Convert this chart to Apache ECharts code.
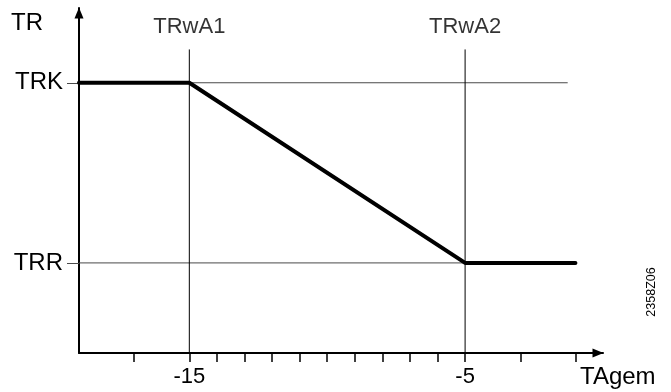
<!DOCTYPE html>
<html>
<head>
<meta charset="utf-8">
<script src="https://cdn.jsdelivr.net/npm/echarts@6/dist/echarts.min.js"></script>
<style>
html,body{margin:0;padding:0;background:#fff;}
#chart{width:671px;height:392px;}
</style>
</head>
<body>
<div id="chart"></div>
<script>
// ---- data ----
var curveX = [-19, -15, -5, -1];          // TAgem
var curveY = [3, 3, 1, 1];                // TR (TRK=3, TRR=1)
var levelNames = ['TRR', 'TRK'];
var levelValues = [1, 3];
var markerX = [-15, -5];
var markerNames = ['TRwA1', 'TRwA2'];
var markerTop = 3.37;
var xTickValues = [-17, -15, -14, -13, -12, -11, -10, -9, -8, -7, -6, -5, -3, -1];
var xLabelValues = [-15, -5];
var refLineStart = -19;
var refLineEnd = -1.28;
var xMin = -19, xMax = 0, yMin = 0, yMax = 3.83;

var FONT = 'Liberation Sans, Arial, sans-serif';
var chart = echarts.init(document.getElementById('chart'));

var series = [];
levelValues.forEach(function (v) {
  series.push({
    type: 'line', silent: true, symbol: 'none', clip: false, z: 1,
    lineStyle: { color: '#4a4a4a', width: 1 },
    data: [[refLineStart, v], [refLineEnd, v]]
  });
});
markerX.forEach(function (x) {
  series.push({
    type: 'line', silent: true, symbol: 'none', clip: false, z: 1,
    lineStyle: { color: '#000', width: 1 },
    data: [[x, yMin], [x, markerTop]]
  });
});
series.push({
  type: 'scatter', silent: true, symbolSize: 0, clip: false,
  data: markerX.map(function (x, i) { return [x, markerTop, markerNames[i]]; }),
  label: {
    show: true, position: 'top', distance: 11,
    formatter: function (p) { return p.value[2]; },
    fontSize: 22, color: '#000', fontFamily: FONT
  }
});
series.push({
  type: 'line', silent: true, symbol: 'none', z: 5,
  lineStyle: { color: '#000', width: 4, cap: 'round', join: 'round' },
  data: curveX.map(function (x, i) { return [x, curveY[i]]; })
});

chart.setOption({
  animation: false,
  backgroundColor: '#fff',
  grid: { left: 79, right: 68, top: 8, bottom: 39 },
  xAxis: {
    type: 'value', min: xMin, max: xMax,
    axisLine: { show: true, onZero: false, symbol: ['none', 'triangle'], symbolSize: [9, 11],
      symbolOffset: [0, -5],
      lineStyle: { color: '#000', width: 2 } },
    axisTick: { show: true, customValues: xTickValues, length: 9,
      lineStyle: { color: '#000', width: 1.5 } },
    axisLabel: { show: true, customValues: xLabelValues, margin: 13,
      formatter: function (v) { return String(v); },
      fontSize: 22, color: '#000', fontFamily: FONT },
    splitLine: { show: false }
  },
  yAxis: {
    type: 'value', min: yMin, max: yMax,
    axisLine: { show: true, onZero: false, symbol: ['none', 'triangle'], symbolSize: [9, 11],
      symbolOffset: [0, -5],
      lineStyle: { color: '#000', width: 2 } },
    axisTick: { show: true, customValues: levelValues, length: 12,
      lineStyle: { color: '#4a4a4a', width: 1 } },
    axisLabel: { show: true, customValues: levelValues, margin: 16,
      formatter: function (v) { return levelNames[levelValues.indexOf(v)]; },
      fontSize: 24, color: '#000', fontFamily: FONT },
    splitLine: { show: false }
  },
  graphic: [
    { type: 'text', left: 11, top: 11, style: { text: 'TR', font: '24px ' + FONT, fill: '#000' } },
    { type: 'text', left: 580, top: 365, style: { text: 'TAgem', font: '24px ' + FONT, fill: '#000' } },
    { type: 'text', x: 652, y: 292, rotation: Math.PI / 2,
      style: { text: '2358Z06', font: '12.5px ' + FONT, fill: '#000', align: 'center', verticalAlign: 'middle' } }
  ],
  series: series
});
</script>
</body>
</html>
